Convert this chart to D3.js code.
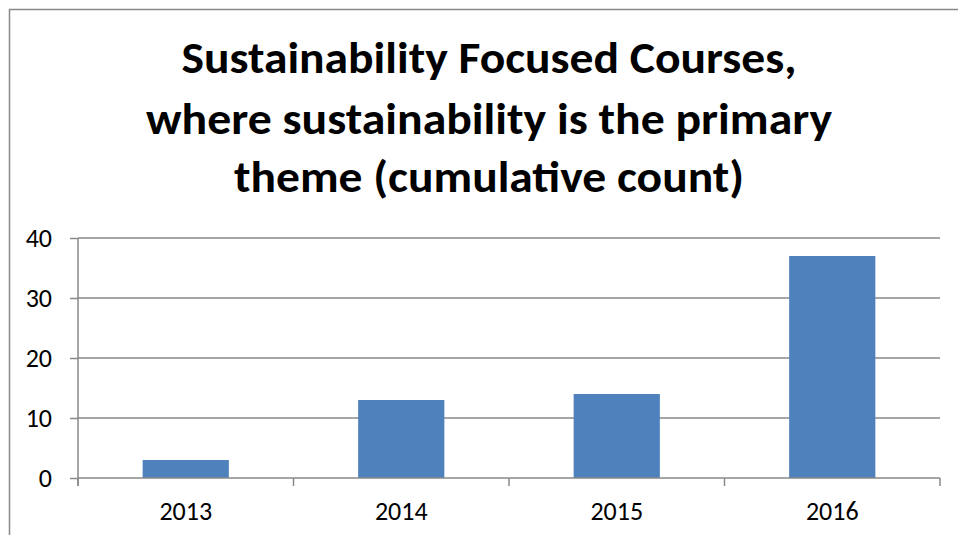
<!DOCTYPE html>
<html>
<head>
<meta charset="utf-8">
<script src="https://cdn.jsdelivr.net/npm/d3@7"></script>
<style>
    body { margin: 0; background: #fff; }
    svg { display: block; }
    text { font-family: Carlito, Calibri, Lato, "Open Sans", sans-serif; }
</style>
</head>
<body>
<svg width="958" height="535"></svg>
<script>
var years = ["2013", "2014", "2015", "2016"];
var courseCounts = [3, 13, 14, 37];
var yTicks = [0, 10, 20, 30, 40];
var titleLines = [
    "Sustainability Focused Courses,",
    "where sustainability is the primary",
    "theme (cumulative count)"
];

var svg = d3.select("svg"),
    width = +svg.attr("width"),
    height = +svg.attr("height"),
    gridColor = "#898989",
    barColor = "#4F81BD";

var plot = {left: 78, right: 940, top: 238, bottom: 478};

// chart frame (runs off the right and bottom edge like the original)
svg.append("rect")
    .attr("x", 9.5)
    .attr("y", 9.5)
    .attr("width", width + 20)
    .attr("height", height + 20)
    .attr("fill", "#fff")
    .attr("stroke", gridColor)
    .attr("stroke-width", 1.5);

// title
var titleBase = [73, 134, 192],
    titleWidth = [615, 686, 510];
svg.append("g").selectAll("text")
    .data(titleLines)
    .enter().append("text")
    .attr("x", 489)
    .attr("y", function (d, i) { return titleBase[i]; })
    .attr("text-anchor", "middle")
    .style("font-size", "44px")
    .style("font-weight", "bold")
    .attr("fill", "#000")
    .attr("textLength", function (d, i) { return titleWidth[i]; })
    .attr("lengthAdjust", "spacingAndGlyphs")
    .text(function (d) { return d; });

var x = d3.scaleBand()
    .domain(years)
    .range([plot.left, plot.right])
    .paddingInner(0.6)
    .paddingOuter(0.3);

var y = d3.scaleLinear()
    .domain([0, 40])
    .range([plot.bottom, plot.top]);

// gridlines
svg.append("g").selectAll("line")
    .data(yTicks.filter(function (d) { return d > 0; }))
    .enter().append("line")
    .attr("x1", plot.left)
    .attr("x2", plot.right)
    .attr("y1", function (d) { return y(d); })
    .attr("y2", function (d) { return y(d); })
    .attr("stroke", gridColor)
    .attr("stroke-width", 1.5);

// bars
svg.append("g").selectAll("rect")
    .data(courseCounts)
    .enter().append("rect")
    .attr("x", function (d, i) { return x(years[i]); })
    .attr("y", function (d) { return y(d); })
    .attr("width", x.bandwidth())
    .attr("height", function (d) { return y(0) - y(d); })
    .attr("fill", barColor);

// y axis
var yAxis = svg.append("g")
    .attr("transform", "translate(" + plot.left + ",0)")
    .call(d3.axisLeft(y).tickValues(yTicks).tickSize(8).tickPadding(18));
yAxis.attr("font-family", null).attr("font-size", null);
yAxis.select(".domain").remove();
yAxis.append("line")
    .attr("x1", 0).attr("x2", 0)
    .attr("y1", plot.top).attr("y2", plot.bottom + 8)
    .attr("stroke", gridColor)
    .attr("stroke-width", 1.5);
yAxis.selectAll(".tick line").attr("stroke", gridColor).attr("stroke-width", 1.5);
yAxis.selectAll(".tick text")
    .style("font-size", "26px")
    .attr("fill", "#000");

// x axis
var xAxis = svg.append("g")
    .attr("transform", "translate(0," + plot.bottom + ")")
    .call(d3.axisBottom(x).tickSize(0).tickPadding(42));
xAxis.attr("font-family", null).attr("font-size", null);
xAxis.select(".domain").remove();
xAxis.append("line")
    .attr("x1", plot.left).attr("x2", plot.right)
    .attr("y1", 0).attr("y2", 0)
    .attr("stroke", gridColor)
    .attr("stroke-width", 1.5);
xAxis.selectAll(".tick text")
    .style("font-size", "26px")
    .attr("fill", "#000")
    .attr("dy", 0);

// category boundary ticks
var bounds = years.map(function (d) { return x(d) - x.step() * x.paddingOuter(); })
    .concat([plot.right]);
xAxis.append("g").selectAll("line")
    .data(bounds)
    .enter().append("line")
    .attr("x1", function (d) { return d; })
    .attr("x2", function (d) { return d; })
    .attr("y1", 0)
    .attr("y2", 8)
    .attr("stroke", gridColor)
    .attr("stroke-width", 1.5);
</script>
</body>
</html>
